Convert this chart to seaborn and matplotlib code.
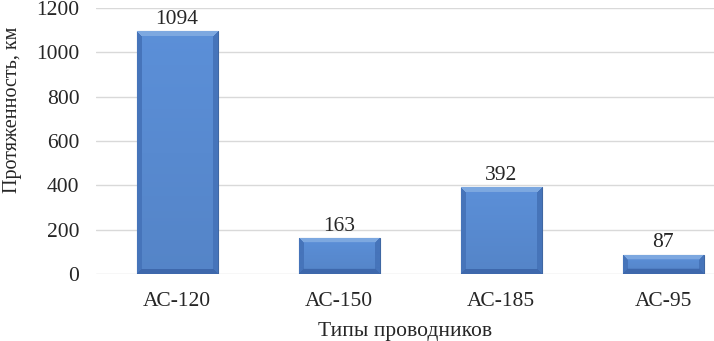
import numpy as np
import pandas as pd
import matplotlib.pyplot as plt
import seaborn as sns

# Data
wire_types = ['АС-120', 'АС-150', 'АС-185', 'АС-95']
lengths = [1094, 163, 392, 87]

df = pd.DataFrame({'type': wire_types, 'length': lengths})

sns.set_style('white')
plt.rcParams['font.family'] = ['Liberation Serif', 'DejaVu Serif']

fig = plt.figure(figsize=(7.14, 3.41), dpi=100)
ax = fig.add_axes([96 / 714, 67 / 341, 1 - 96 / 714, (274 - 8) / 341])

sns.barplot(data=df, x='type', y='length', color='#5a8cd0', width=0.5,
            saturation=1, edgecolor='#3f67a3', linewidth=0.8, ax=ax)

ax.set_ylim(0, 1200)
ax.set_xlim(-0.5, 3.5 - 30 / 162)


def bevel_image(h_px, w_px, b=5):
    # Excel-like bevelled fill: light top edge, darker sides and bottom
    center = np.array([88, 138, 208]) / 255
    top = np.array([125, 168, 224]) / 255
    side = np.array([70, 116, 186]) / 255
    bottom = np.array([62, 104, 172]) / 255
    h_px, w_px = max(h_px, 2 * b + 1), max(w_px, 2 * b + 1)
    img = np.tile(center, (h_px, w_px, 1))
    yy, xx = np.mgrid[0:h_px, 0:w_px]
    d_top, d_bot = yy, h_px - 1 - yy
    d_side = np.minimum(xx, w_px - 1 - xx)
    m = np.minimum(np.minimum(d_top, d_bot), d_side)
    edge = m < b
    which = np.argmin(np.stack([d_top, d_bot, d_side]), axis=0)
    cols = np.stack([top, bottom, side])
    img[edge] = cols[which[edge]]
    fade = np.linspace(1.04, 0.96, h_px)[:, None, None]
    img[~edge] = np.clip((img * fade)[~edge], 0, 1)
    return img


px_per_unit = 266 / 1200
for bar in ax.patches:
    x0, y0 = bar.get_x(), bar.get_y()
    w, h = bar.get_width(), bar.get_height()
    img = bevel_image(int(round(h * px_per_unit)), int(round(w * 162)))
    im = ax.imshow(img, extent=[x0, x0 + w, y0, y0 + h], aspect='auto',
                   interpolation='bilinear', zorder=bar.get_zorder() + 0.1)
    im.set_clip_path(bar)

for i, v in enumerate(lengths):
    ax.text(i, v + 10, str(v), ha='center', va='bottom', fontsize=15.5)

ax.set_yticks(range(0, 1201, 200))
ax.yaxis.grid(True, color='#d9d9d9', linewidth=1)
ax.set_axisbelow(True)
sns.despine(ax=ax, left=True, bottom=True)
ax.tick_params(axis='both', length=0, labelsize=15.5)
ax.tick_params(axis='y', pad=12)
ax.tick_params(axis='x', pad=13)

ax.set_xlabel('Типы проводников', fontsize=15.5, labelpad=8)
ax.set_ylabel('Протяженность, км', fontsize=14.5)
ax.yaxis.set_label_coords(-74 / 618, (274 - 110) / 266)

fig.savefig('out.png', dpi=100)
